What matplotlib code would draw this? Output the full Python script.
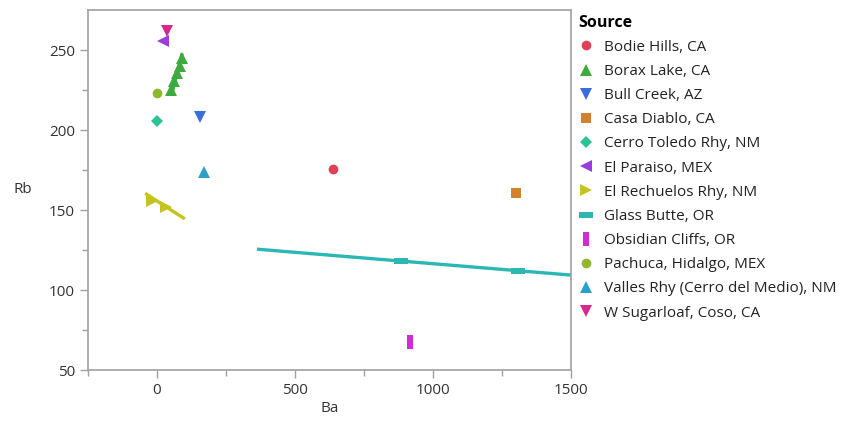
import matplotlib
matplotlib.use("Agg")
import matplotlib.pyplot as plt
from matplotlib.lines import Line2D
from matplotlib.path import Path

plt.rcParams['font.family'] = ['Open Sans', 'DejaVu Sans']

sources = ["Bodie Hills, CA", "Borax Lake, CA", "Bull Creek, AZ", "Casa Diablo, CA",
           "Cerro Toledo Rhy, NM", "El Paraiso, MEX", "El Rechuelos Rhy, NM",
           "Glass Butte, OR", "Obsidian Cliffs, OR", "Pachuca, Hidalgo, MEX",
           "Valles Rhy (Cerro del Medio), NM", "W Sugarloaf, Coso, CA"]

ba = {
    "Bodie Hills, CA": [638],
    "Borax Lake, CA": [52, 62, 72, 82, 90],
    "Bull Creek, AZ": [156],
    "Casa Diablo, CA": [1300],
    "Cerro Toledo Rhy, NM": [0],
    "El Paraiso, MEX": [22],
    "El Rechuelos Rhy, NM": [-18, 33],
    "Glass Butte, OR": [884, 1308],
    "Obsidian Cliffs, OR": [917],
    "Pachuca, Hidalgo, MEX": [0],
    "Valles Rhy (Cerro del Medio), NM": [170],
    "W Sugarloaf, Coso, CA": [36],
}
rb = {
    "Bodie Hills, CA": [176],
    "Borax Lake, CA": [225, 231, 236, 240, 245],
    "Bull Creek, AZ": [208],
    "Casa Diablo, CA": [161],
    "Cerro Toledo Rhy, NM": [205.5],
    "El Paraiso, MEX": [256],
    "El Rechuelos Rhy, NM": [156, 152],
    "Glass Butte, OR": [118, 112],
    "Obsidian Cliffs, OR": [67.5],
    "Pachuca, Hidalgo, MEX": [223.5],
    "Valles Rhy (Cerro del Medio), NM": [174],
    "W Sugarloaf, Coso, CA": [262],
}

# fitted lines per group (endpoints)
fit_ba = {
    "Borax Lake, CA": [54, 91],
    "El Rechuelos Rhy, NM": [-43, 101],
    "Glass Butte, OR": [362, 1500],
}
fit_rb = {
    "Borax Lake, CA": [223, 248],
    "El Rechuelos Rhy, NM": [160.5, 144.5],
    "Glass Butte, OR": [125.6, 109.4],
}

colors = {
    "Bodie Hills, CA": "#DC4156",
    "Borax Lake, CA": "#3DAA3D",
    "Bull Creek, AZ": "#3A6EDC",
    "Casa Diablo, CA": "#D5802A",
    "Cerro Toledo Rhy, NM": "#2CC394",
    "El Paraiso, MEX": "#9A3EDB",
    "El Rechuelos Rhy, NM": "#C5C320",
    "Glass Butte, OR": "#2BB7B4",
    "Obsidian Cliffs, OR": "#D22BD4",
    "Pachuca, Hidalgo, MEX": "#8FB82B",
    "Valles Rhy (Cerro del Medio), NM": "#2E9FC9",
    "W Sugarloaf, Coso, CA": "#D5298C",
}

wide = Path([(-1, -0.45), (1, -0.45), (1, 0.45), (-1, 0.45), (-1, -0.45)],
            [Path.MOVETO, Path.LINETO, Path.LINETO, Path.LINETO, Path.CLOSEPOLY])
tall = Path([(-0.45, -1), (0.45, -1), (0.45, 1), (-0.45, 1), (-0.45, -1)],
            [Path.MOVETO, Path.LINETO, Path.LINETO, Path.LINETO, Path.CLOSEPOLY])

markers = {
    "Bodie Hills, CA": ("o", 7),
    "Borax Lake, CA": ("^", 8),
    "Bull Creek, AZ": ("v", 8),
    "Casa Diablo, CA": ("s", 7),
    "Cerro Toledo Rhy, NM": ("D", 6),
    "El Paraiso, MEX": ("<", 8),
    "El Rechuelos Rhy, NM": (">", 8),
    "Glass Butte, OR": (wide, 10),
    "Obsidian Cliffs, OR": (tall, 10),
    "Pachuca, Hidalgo, MEX": ("o", 7),
    "Valles Rhy (Cerro del Medio), NM": ("^", 8),
    "W Sugarloaf, Coso, CA": ("v", 8),
}

fig = plt.figure(figsize=(8.68, 4.23), dpi=100)
ax = fig.add_axes([0.1014, 0.125, 0.5565, 0.851])

for s in sources:
    if s in fit_ba:
        ax.plot(fit_ba[s], fit_rb[s], color=colors[s], lw=2.4, solid_capstyle='butt', zorder=2)
    m, ms = markers[s]
    ax.plot(ba[s], rb[s], linestyle='none', marker=m, markersize=ms,
            color=colors[s], markeredgewidth=0, zorder=3)

ax.set_xlim(-250, 1500)
ax.set_ylim(50, 275)
ax.set_xticks([0, 500, 1000, 1500])
ax.set_xticks([-250, 250, 750, 1250], minor=True)
ax.set_yticks([50, 100, 150, 200, 250])
ax.set_yticks([75, 125, 175, 225], minor=True)

gray = "#A0A0A0"
for sp in ax.spines.values():
    sp.set_color(gray)
    sp.set_linewidth(1.2)
ax.tick_params(which='major', length=6, color=gray, labelsize=11, labelcolor="#333333", width=1)
ax.tick_params(which='minor', length=4, color=gray, width=1)

ax.set_xlabel("Ba", fontsize=11, color="#333333", labelpad=2)
ax.set_ylabel("Rb", fontsize=11, color="#333333", rotation=0, labelpad=18)
ax.yaxis.set_label_coords(-0.135, 0.48)

handles = []
for s in sources:
    m, ms = markers[s]
    handles.append(Line2D([], [], linestyle='none', marker=m, markersize=ms,
                          color=colors[s], markeredgewidth=0))
leg = fig.legend(handles, sources, loc='upper left', bbox_to_anchor=(0.659, 0.98),
                 frameon=False, fontsize=11, title="Source", handlelength=1.0,
                 handletextpad=0.7, labelspacing=0.6, borderaxespad=0,
                 alignment='left')
leg.get_title().set_fontweight('bold')
leg.get_title().set_fontsize(11.5)
for t in leg.get_texts():
    t.set_color("#222222")

fig.savefig("out.png", dpi=100)
